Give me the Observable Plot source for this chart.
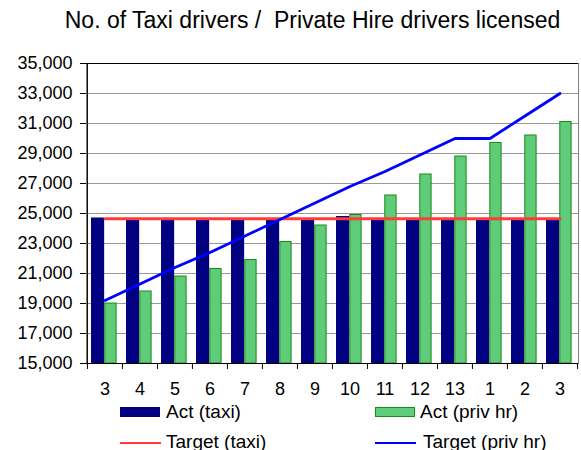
<!DOCTYPE html>
<html>
<head>
<meta charset="utf-8">
<script src="https://cdn.jsdelivr.net/npm/d3@7"></script>
<script src="https://cdn.jsdelivr.net/npm/@observablehq/plot@0.6"></script>
<style>
  body { margin: 0; background: white; font-family: "Liberation Sans", Arial, sans-serif; }
  #wrap { position: relative; width: 581px; height: 450px; overflow: hidden; }
  #title { position: absolute; left: 0; top: 0; width: 581px; height: 40px; line-height: 40px; text-align: center; font-size: 23px; padding-left: 44px; box-sizing: border-box; white-space: nowrap; }
  #chart { position: absolute; left: 0; top: 40px; }
  .leg { position: absolute; font-size: 19px; line-height: 22px; white-space: nowrap; }
  .sw { position: absolute; }
</style>
</head>
<body>
<div id="wrap">
  <div id="title">No. of Taxi drivers /&nbsp; Private Hire drivers licensed</div>
  <div id="chart"></div>
  <div class="sw" style="left:120px; top:407px; width:40px; height:10px; background:#000080;"></div>
  <div class="leg" style="left:166px; top:401px;">Act (taxi)</div>
  <div class="sw" style="left:375px; top:407px; width:38px; height:8px; background:#5ECC78; border:1px solid #1A8A1A;"></div>
  <div class="leg" style="left:420px; top:401px;">Act (priv hr)</div>
  <div class="sw" style="left:120px; top:442px; width:41px; height:2px; background:#FF3B3B;"></div>
  <div class="leg" style="left:166px; top:431px;">Target (taxi)</div>
  <div class="sw" style="left:375px; top:442px; width:41px; height:2px; background:#0000FF;"></div>
  <div class="leg" style="left:423px; top:431px;">Target (priv hr)</div>
</div>
<script>
const cats = ["3","4","5","6","7","8","9","10","11","12","13","1","2","3"];
const taxiAct = [24700, 24550, 24550, 24550, 24550, 24550, 24550, 24800, 24550, 24550, 24550, 24550, 24550, 24550];
const privAct = [19000, 19800, 20800, 21300, 21900, 23100, 24200, 24900, 26200, 27600, 28800, 29700, 30200, 31100];
const taxiTarget = [24650, 24650, 24650, 24650, 24650, 24650, 24650, 24650, 24650, 24650, 24650, 24650, 24650, 24650];
const privTarget = [19200, 20300, 21400, 22400, 23500, 24600, 25700, 26800, 27800, 28900, 30000, 30000, 31500, 33000];
const yTicks = [15000, 17000, 19000, 21000, 23000, 25000, 27000, 29000, 31000, 33000, 35000];
const yMin = 15000, yMax = 35000;

const rows = cats.map((c, i) => ({i, cat: c, taxi: taxiAct[i], priv: privAct[i], tt: taxiTarget[i], pt: privTarget[i]}));
const idx = rows.map(d => d.i);

const W = 581, ML = 86, MR = 3;
const bw = (W - ML - MR) / cats.length;

const chart = Plot.plot({
  width: W,
  height: 360,
  marginTop: 23,
  marginBottom: 37,
  marginLeft: ML,
  marginRight: MR,
  x: {type: "band", domain: idx, padding: 0, axis: null, label: null},
  y: {domain: [yMin, yMax], axis: null, label: null},
  style: {fontFamily: "'Liberation Sans', Arial, sans-serif", fontSize: "18px", color: "black", background: "white", overflow: "visible"},
  marks: [
    Plot.ruleY(yTicks.filter(t => t > yMin && t < yMax), {y: d => d, stroke: "#999", strokeOpacity: 1}),
    Plot.barY(rows, {x: "i", y1: yMin, y2: "taxi", fill: "#000080", insetLeft: 4, insetRight: bw - 17.3}),
    Plot.barY(rows, {x: "i", y1: yMin, y2: "priv", fill: "#5ECC78", stroke: "#1A8A1A", strokeWidth: 1, insetLeft: 17.8, insetRight: 5.9}),
    Plot.frame({stroke: "#808080"}),
    Plot.ruleY([yMax, yMin], {y: d => d, stroke: "black"}),
    Plot.ruleX([0], {x: d => d, dx: -bw / 2, stroke: "black"}),
    Plot.lineY(rows, {x: "i", y: "tt", stroke: "#FF3B3B", strokeWidth: 3}),
    Plot.lineY(rows, {x: "i", y: "pt", stroke: "#0000FF", strokeWidth: 2.8}),
    Plot.axisY(yTicks, {tickSize: 6, tickPadding: 8, tickFormat: d3.format(","), fontSize: 18, stroke: "black", label: null}),
    Plot.axisX(idx, {tickSize: 6, tickFormat: () => "", dx: -bw / 2, stroke: "black", label: null}),
    Plot.axisX([idx[idx.length - 1]], {tickSize: 6, tickFormat: () => "", dx: bw / 2, stroke: "black", label: null}),
    Plot.axisX(idx, {tickSize: 0, tickPadding: 19, tickFormat: i => cats[i], fontSize: 18, label: null})
  ]
});
document.getElementById("chart").appendChild(chart);
</script>
</body>
</html>
